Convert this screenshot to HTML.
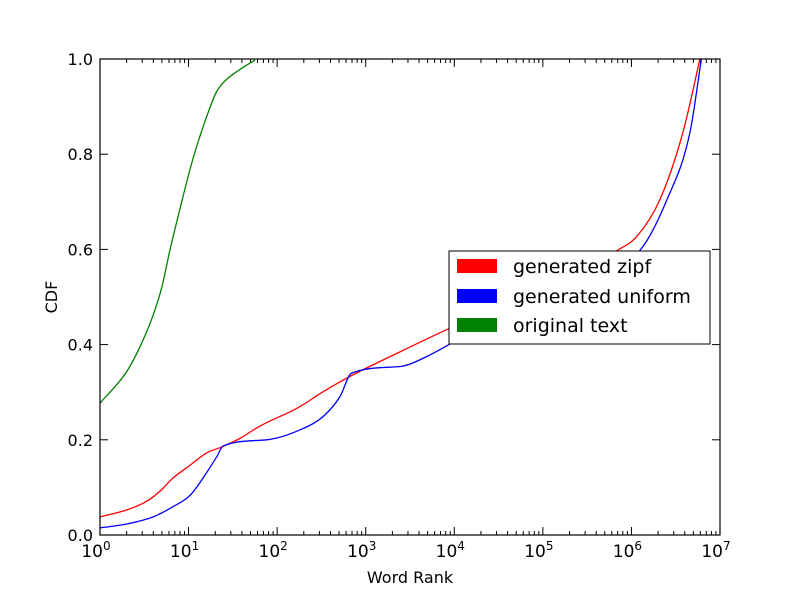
<!DOCTYPE html>
<html><head><meta charset="utf-8"><style>
html,body{margin:0;padding:0;background:#fff;}
svg{display:block;font-family:"DejaVu Sans","Liberation Sans",sans-serif;}
</style></head><body>
<svg id="chart" width="800" height="595" viewBox="0 0 800 595" xmlns="http://www.w3.org/2000/svg">
<rect x="0" y="0" width="800" height="595" fill="#fff"/>
<g id="ticks"></g>
<g id="series"></g>
<rect x="100" y="59" width="620" height="476" fill="none" stroke="#000" stroke-width="1.2"/>
<g id="labels"></g>
<text x="410" y="583" font-size="16" text-anchor="middle">Word Rank</text>
<text x="57" y="297" font-size="16" text-anchor="middle" transform="rotate(-90 57 297)">CDF</text>
<g>
<rect x="449" y="251" width="261" height="93" fill="#fff" stroke="#000" stroke-width="1"/>
<rect x="457" y="259" width="40" height="14" fill="#ff0000"/>
<text x="513" y="273" font-size="19">generated zipf</text>
<rect x="457" y="289" width="40" height="14" fill="#0000ff"/>
<text x="513" y="303" font-size="19">generated uniform</text>
<rect x="457" y="318" width="40" height="14" fill="#008000"/>
<text x="513" y="332" font-size="19">original text</text>
</g>
</svg>
<script>
// log10(rank) and CDF values
const greenX = [0,0.30,0.47,0.60,0.70,0.79,0.90,1.035,1.165,1.31,1.39,1.54,1.75];
const greenY = [0.277,0.343,0.403,0.462,0.522,0.599,0.683,0.781,0.858,0.929,0.95,0.973,0.998];
const redX = [0,0.30,0.49,0.60,0.71,0.82,1.02,1.20,1.39,1.58,1.77,1.88,2.15,2.26,2.52,2.82,3.39,3.91,4.5,5.0,5.5,5.85,6.06,6.32,6.58,6.774];
const redY = [0.038,0.0525,0.067,0.080,0.098,0.119,0.147,0.172,0.186,0.203,0.225,0.236,0.259,0.270,0.301,0.333,0.385,0.431,0.48,0.52,0.565,0.599,0.627,0.704,0.845,1.0];
const blueX = [0,0.30,0.60,0.82,1.02,1.20,1.32,1.39,1.88,2.26,2.52,2.71,2.84,3.39,3.69,3.93,4.5,5.0,5.5,5.8,6.10,6.40,6.66,6.79];
const blueY = [0.015,0.023,0.038,0.059,0.084,0.130,0.165,0.187,0.200,0.221,0.249,0.291,0.340,0.354,0.375,0.399,0.46,0.51,0.55,0.575,0.599,0.704,0.845,1.0];
const yTicks = [0,0.2,0.4,0.6,0.8,1.0];
const yTickLabels = ["0.0","0.2","0.4","0.6","0.8","1.0"];
const xDecades = [0,1,2,3,4,5,6,7];

const NS="http://www.w3.org/2000/svg";
const X0=100,X1=720,Y0=535,Y1=59;
function sx(l){return X0+(l/7)*(X1-X0);}
function sy(v){return Y0-v*(Y0-Y1);}
function mk(tag,attrs,parent){const e=document.createElementNS(NS,tag);for(const k in attrs)e.setAttribute(k,attrs[k]);parent.appendChild(e);return e;}

const ticks=document.getElementById('ticks');
const labels=document.getElementById('labels');
xDecades.forEach(d=>{
  const x=sx(d);
  let t=mk('line',{x1:x,x2:x,y1:Y0,y2:Y0-8,stroke:'#000'},ticks);
  
  
  t=mk('line',{x1:x,x2:x,y1:Y1,y2:Y1+8,stroke:'#000'},ticks);
  
  
  const tx=mk('text',{x:x-4,y:557,'font-size':17,'text-anchor':'middle'},labels);
  
  
  tx.textContent='10';
  const sp=mk('tspan',{dy:-7,'font-size':12},tx);
  sp.textContent=String(d);
  if(d<7){for(let m=2;m<10;m++){
    const mx=sx(d+Math.log10(m));
    let a=mk('line',{x1:mx,x2:mx,y1:Y0,y2:Y0-4,stroke:'#000'},ticks);
    
    
    a=mk('line',{x1:mx,x2:mx,y1:Y1,y2:Y1+4,stroke:'#000'},ticks);
    
    
  }}
});
yTicks.forEach((v,i)=>{
  const y=sy(v);
  let t=mk('line',{x1:X0,x2:X0+8,y1:y,y2:y,stroke:'#000'},ticks);
  
  
  t=mk('line',{x1:X1,x2:X1-8,y1:y,y2:y,stroke:'#000'},ticks);
  
  
  const tx=mk('text',{x:93,y:y+6,'font-size':16,'text-anchor':'end'},labels);
  
  
  tx.textContent=yTickLabels[i];
});
const series=document.getElementById('series');
// monotone cubic (Fritsch-Carlson) smoothing in pixel space
function smoothPath(px,py){
  const n=px.length,dx=[],m=[],s=[];
  for(let i=0;i<n-1;i++){dx.push(px[i+1]-px[i]);s.push((py[i+1]-py[i])/dx[i]);}
  m[0]=s[0];m[n-1]=s[n-2];
  for(let i=1;i<n-1;i++){m[i]=(s[i-1]*s[i]<=0)?0:(s[i-1]+s[i])/2;}
  for(let i=0;i<n-1;i++){
    if(s[i]===0){m[i]=0;m[i+1]=0;continue;}
    const a=m[i]/s[i],b=m[i+1]/s[i],h=a*a+b*b;
    if(h>9){const t=3/Math.sqrt(h);m[i]=t*a*s[i];m[i+1]=t*b*s[i];}
  }
  let d='M'+px[0].toFixed(2)+','+py[0].toFixed(2);
  for(let i=0;i<n-1;i++){
    const h=dx[i]/3;
    d+=' C'+(px[i]+h).toFixed(2)+','+(py[i]+m[i]*h).toFixed(2)+' '+(px[i+1]-h).toFixed(2)+','+(py[i+1]-m[i+1]*h).toFixed(2)+' '+px[i+1].toFixed(2)+','+py[i+1].toFixed(2);
  }
  return d;
}
function line(xs,ys,color,name){
  const d=smoothPath(xs.map(sx),ys.map(sy));
  const p=mk('path',{d:d,fill:'none',stroke:color,'stroke-width':1.3},series);
  
  
}
line(greenX,greenY,'#008000','original-text-line');
line(redX,redY,'#ff0000','generated-zipf-line');
line(blueX,blueY,'#0000ff','generated-uniform-line');
</script>
</body></html>
